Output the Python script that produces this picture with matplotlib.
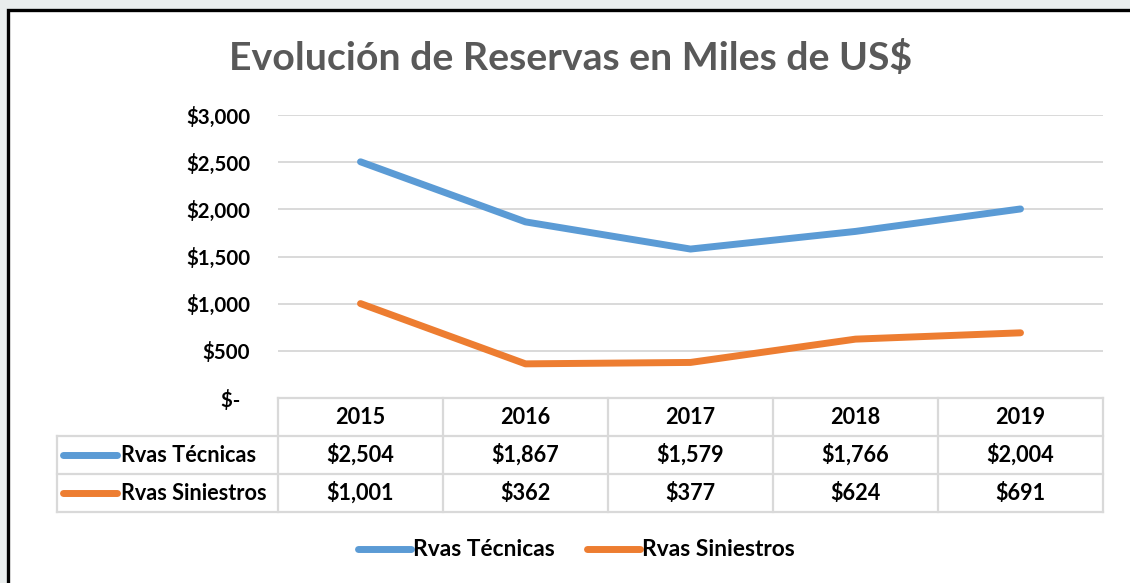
import matplotlib
matplotlib.use("Agg")
import matplotlib.pyplot as plt
from matplotlib.lines import Line2D
from matplotlib.patches import Rectangle

years = ["2015", "2016", "2017", "2018", "2019"]
series_names = ["Rvas Técnicas", "Rvas Siniestros"]
tecnicas = [2504, 1867, 1579, 1766, 2004]
siniestros = [1001, 362, 377, 624, 691]
series_values = [tecnicas, siniestros]
colors = ["#5B9BD5", "#ED7D31"]
yticks = [0, 500, 1000, 1500, 2000, 2500, 3000]
title = "Evolución de Reservas en Miles de US$"

FONT = ["Lato", "DejaVu Sans"]
plt.rcParams["font.family"] = FONT

W, H = 1130, 583
fig = plt.figure(figsize=(W / 100, H / 100), dpi=100)
fig.patch.set_facecolor("#e9eded")


def fx(px):
    return px / W


def fy(py):
    return 1 - py / H


# white chart area with black frame (right/bottom edges beyond the picture)
fig.add_artist(Rectangle((fx(8), -0.2), 1.5, fy(10) + 0.2, transform=fig.transFigure,
                         facecolor="white", edgecolor="black", linewidth=2.4, zorder=0))


def money(v):
    return "$-  " if v == 0 else f"${v:,.0f}"


LW = 5.0
ax = fig.add_axes([fx(278), fy(398), fx(1103) - fx(278), fy(115) - fy(398)])
ax.set_facecolor("none")
x = list(range(len(years)))
for vals, c, name in zip(series_values, colors, series_names):
    ax.plot(x, vals, color=c, lw=LW, solid_capstyle="round", solid_joinstyle="round",
            label=name, zorder=3)
ax.set_xlim(-0.5, len(years) - 0.5)
ax.set_ylim(0, 3000)
ax.set_yticks(yticks)
ax.set_yticklabels([money(v) for v in yticks], fontsize=14.8, fontweight="bold", color="#000000")
ax.tick_params(axis="y", length=0, pad=20)
ax.tick_params(axis="x", length=0, labelbottom=False)
ax.grid(axis="y", color="#d9d9d9", lw=1.4)
ax.set_axisbelow(True)
for s in ax.spines.values():
    s.set_visible(False)

fig.text(fx(571), fy(58), title, ha="center", va="center", fontsize=28.3,
         fontweight="bold", color="#595959")

# data table
inv = fig.transFigure.inverted()


def dx(v):
    return inv.transform(ax.transData.transform((v, 0)))[0]


grid_c = "#d9d9d9"
lw_t = 1.6
TFS = 15.6
x_left_px = fx(57)
x_last = dx(len(years) - 0.5)
x_first = dx(-0.5)
row_y = [398, 436, 474, 512]
fig.add_artist(Line2D([x_first, x_last], [fy(row_y[0])] * 2, color=grid_c, lw=lw_t))
for ry in row_y[1:]:
    fig.add_artist(Line2D([x_left_px, x_last], [fy(ry)] * 2, color=grid_c, lw=lw_t))
fig.add_artist(Line2D([x_left_px, x_left_px], [fy(row_y[1]), fy(row_y[3])], color=grid_c, lw=lw_t))
for i in range(len(years) + 1):
    xv = dx(i - 0.5)
    fig.add_artist(Line2D([xv, xv], [fy(row_y[0]), fy(row_y[3])], color=grid_c, lw=lw_t))

for i, yr in enumerate(years):
    fig.text(dx(i), fy(417), yr, ha="center", va="center", fontsize=TFS, fontweight="bold")
for r, (vals, c, name) in enumerate(zip(series_values, colors, series_names)):
    yc = fy(455 + 38 * r)
    fig.add_artist(Line2D([fx(63), fx(117)], [yc, yc], color=c, lw=LW, solid_capstyle="round"))
    fig.text(fx(121), yc, name, ha="left", va="center", fontsize=TFS, fontweight="bold")
    for i, v in enumerate(vals):
        fig.text(dx(i), yc, money(v), ha="center", va="center", fontsize=TFS, fontweight="bold")

# legend
leg_x = [358, 587]
for (lx, c, name) in zip(leg_x, colors, series_names):
    yc = fy(549)
    fig.add_artist(Line2D([fx(lx), fx(lx + 53)], [yc, yc], color=c, lw=LW, solid_capstyle="round"))
    fig.text(fx(lx + 55), yc, name, ha="left", va="center", fontsize=16.4, fontweight="bold",
             color="#000000")

fig.savefig("out.png", dpi=100, facecolor=fig.get_facecolor())
